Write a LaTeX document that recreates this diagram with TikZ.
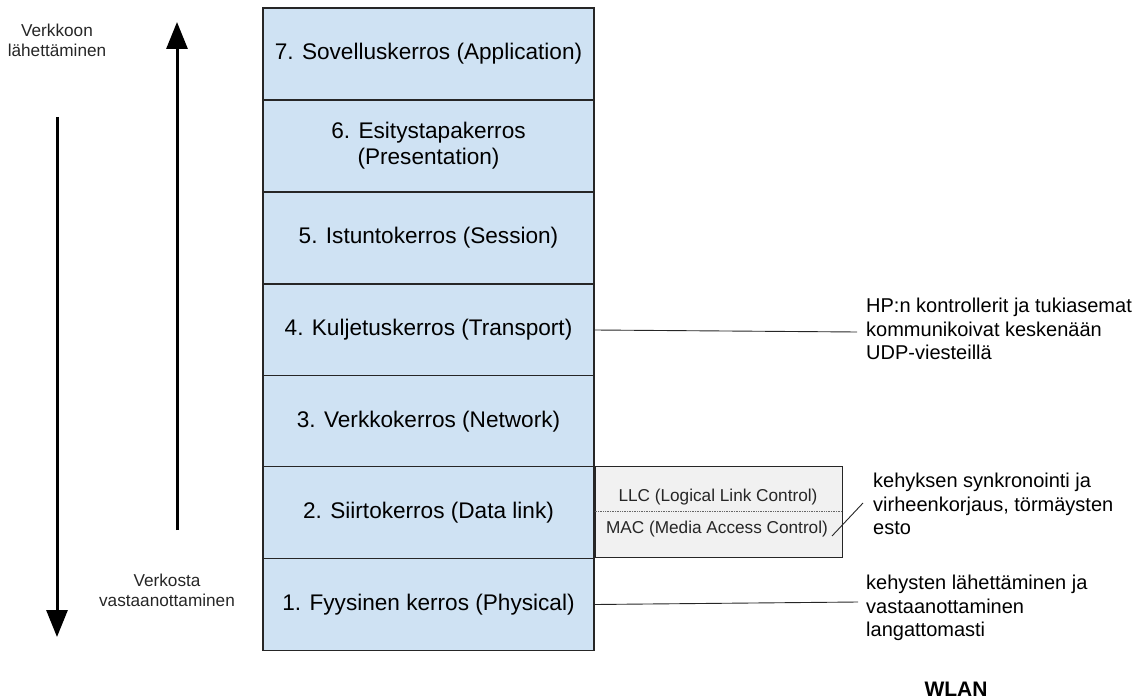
\documentclass[tikz,border=0pt]{standalone}
\usepackage{fontspec}
\setmainfont{Liberation Sans}
\usetikzlibrary{arrows.meta}
\definecolor{layerblue}{HTML}{CFE2F3}
\definecolor{subgray}{HTML}{F1F1F1}
\definecolor{edge}{HTML}{262626}
\begin{document}
\begin{tikzpicture}[x=1pt,y=-1pt,
  layer/.style={draw=edge, line width=1.5pt, fill=layerblue, minimum width=331pt,
    minimum height=92pt, inner sep=0pt, align=center,
    font=\fontsize{22.6}{26}\selectfont},
  subbox/.style={draw=edge, line width=0.8pt, fill=subgray, minimum width=247pt,
    minimum height=91pt, inner sep=0pt},
  sublabel/.style={font=\fontsize{17.2}{20}\selectfont, text=black!85, inner sep=1pt},
  note/.style={align=left, anchor=north west, inner sep=0pt,
    font=\fontsize{20}{23.5}\selectfont},
  side/.style={align=center, inner sep=0pt, text=black!85,
    font=\fontsize{17.2}{20}\selectfont},
  leader/.style={draw=black!85, line width=0.9pt},
  flow/.style={line width=3pt, -{Triangle[length=27pt,width=21pt]}}
]
\useasboundingbox (0,0) rectangle (1147,700);

% protocol stack
\node[layer] (l7) at (428.5,54)    {7. Sovelluskerros (Application)};
\node[layer] (l6) at (428.5,146)   {6. Esitystapakerros\\(Presentation)};
\node[layer] (l5) at (428.5,238)   {5. Istuntokerros (Session)};
\node[layer] (l4) at (428.5,330)   {4. Kuljetuskerros (Transport)};
\node[layer] (l3) at (428.5,421.5) {3. Verkkokerros (Network)};
\node[layer] (l2) at (428.5,512.5) {2. Siirtokerros (Data link)};
\node[layer] (l1) at (428.5,604.5) {1. Fyysinen kerros (Physical)};

% data link sublayers
\node[subbox] (sub) at (718.5,511.5) {};
\draw[densely dotted, black!60, line width=0.7pt] (sub.west) -- (sub.east);
\node[sublabel] (llc) at (718,497) {LLC (Logical Link Control)};
\node[sublabel] (mac) at (717,529) {MAC (Media Access Control)};

% notes
\node[note] (n4) at (866,298) {HP:n kontrollerit ja tukiasemat\\kommunikoivat keskenään\\UDP-viesteillä};
\node[note] (n2) at (873,473) {kehyksen synkronointi ja\\virheenkorjaus, törmäysten\\esto};
\node[note] (n1) at (866,575) {kehysten lähettäminen ja\\vastaanottaminen\\langattomasti};
\node[font=\bfseries\fontsize{21}{24}\selectfont] (wlan) at (956,689) {WLAN};

\coordinate (n4in) at (857,332);
\coordinate (n2in) at (863,503);
\coordinate (macout) at (832,536);
\coordinate (n1in) at (858,602);
\draw[leader] (l4.east) -- (n4in);
\draw[leader] (macout) -- (n2in);
\draw[leader] (l1.east) -- (n1in);

% direction arrows
\node[side] (send) at (57,40) {Verkkoon\\lähettäminen};
\node[side] (recv) at (167,590) {Verkosta\\vastaanottaminen};
\coordinate (upfrom) at (177,530);
\coordinate (upto) at (177,22);
\coordinate (downfrom) at (57,117);
\coordinate (downto) at (57,637);
\draw[flow] (upfrom) -- (upto);
\draw[flow] (downfrom) -- (downto);
\end{tikzpicture}
\end{document}
